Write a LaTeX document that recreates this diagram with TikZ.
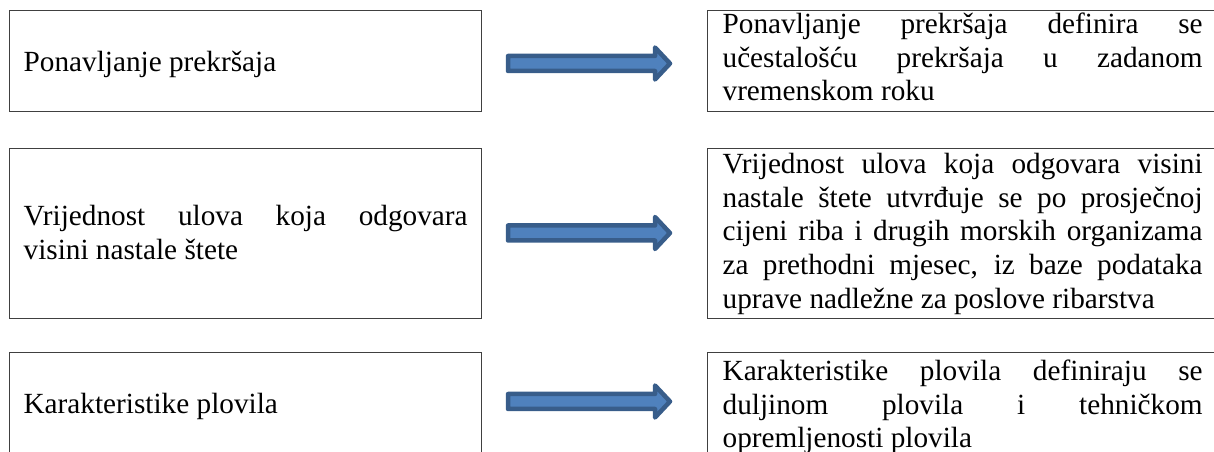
\documentclass[tikz,border=0pt]{standalone}
\usepackage{fontspec}
\setmainfont{Liberation Serif}
\definecolor{arrowfill}{HTML}{4F81BD}
\definecolor{arrowline}{HTML}{385D8A}
\hyphenpenalty=10000
\tolerance=10000
\hbadness=10000

\begin{document}
\begin{tikzpicture}[x=0.4pt, y=-0.4pt,
    every node/.style={font=\fontsize{11.7pt}{13.45pt}\selectfont},
    lbox/.style={draw=black!75, line width=0.5pt, anchor=north west,
        text width=177.6pt, inner xsep=5.6pt, inner ysep=0pt, align=justify},
    rbox/.style={draw=black!75, line width=0.5pt, anchor=north west,
        text width=192pt, inner xsep=6pt, inner ysep=0pt, align=justify},
    blockarrow/.pic={
        \draw[fill=arrowfill, draw=arrowline, line width=1.8pt, line join=round]
            (0,-7.5) -- (147,-7.5) -- (147,-16) -- (162,0) -- (147,16)
            -- (147,7.5) -- (0,7.5) -- cycle;
    }]
    \useasboundingbox (0,0) rectangle (1214,452);
    \clip (0,0) rectangle (1214,452);

    % left column
    \node[lbox, text height=24.4pt, text depth=16pt] (ponavljanje) at (9,10)
        {Ponavljanje prekršaja};
    \node[lbox, text height=30.8pt, text depth=37.2pt] (vrijednost) at (9,148)
        {Vrijednost ulova koja odgovara\linebreak visini nastale štete};
    \node[lbox, text height=24.4pt, text depth=24pt] (karakteristike) at (9,352)
        {Karakteristike plovila};

    % right column
    \node[rbox, text height=9.2pt, text depth=31.2pt] (ponavljanjeopis) at (707,10)
        {Ponavljanje prekršaja definira se\linebreak
         učestalošću prekršaja u zadanom\linebreak
         vremenskom roku};
    \node[rbox, text height=10pt, text depth=58pt] (vrijednostopis) at (707,148)
        {Vrijednost ulova koja odgovara visini\linebreak
         nastale štete utvrđuje se po prosječnoj\linebreak
         cijeni riba i drugih morskih organizama\linebreak
         za prethodni mjesec, iz baze podataka\linebreak
         uprave nadležne za poslove ribarstva};
    \node[rbox, text height=11.2pt, text depth=40pt] (karakteristikeopis) at (707,352)
        {Karakteristike plovila definiraju se\linebreak
         duljinom plovila i tehničkom\linebreak
         opremljenosti plovila};

    % arrows
    \pic at (508,63.5) {blockarrow};
    \pic at (508,233) {blockarrow};
    \pic at (508,401.5) {blockarrow};
\end{tikzpicture}
\end{document}
